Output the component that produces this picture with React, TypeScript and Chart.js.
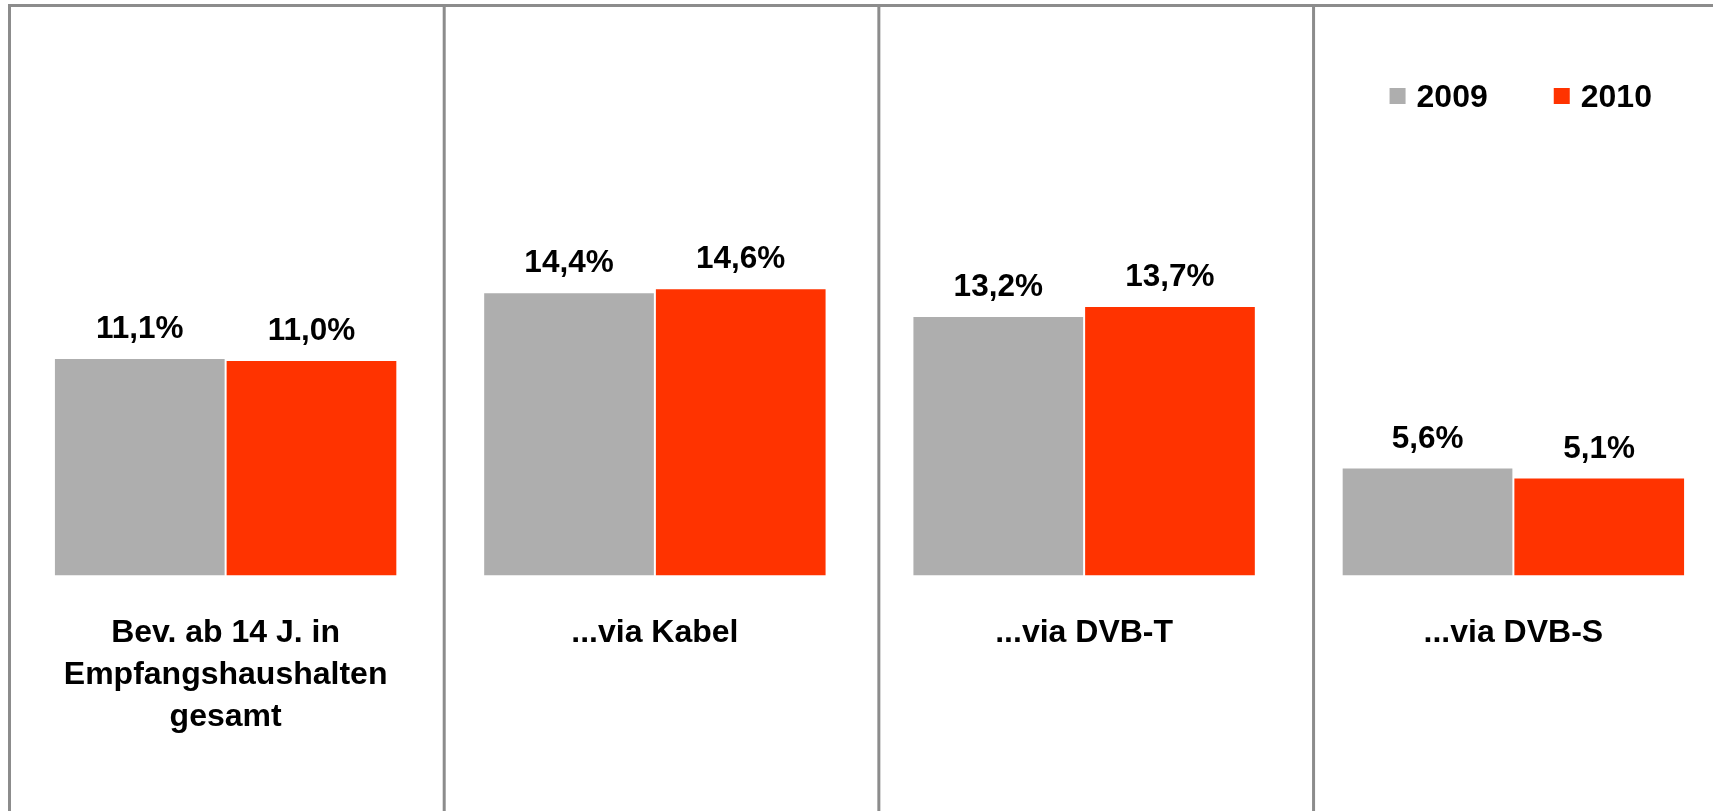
import React, { useEffect, useRef } from 'react';
import { Chart, registerables } from 'chart.js';

Chart.register(...registerables);

// ---- data ----
const CATEGORIES: (string | string[])[] = [
  ['Bev. ab 14 J. in', 'Empfangshaushalten', 'gesamt'],
  '...via Kabel',
  '...via DVB-T',
  '...via DVB-S',
];
const SERIES_NAMES = ['2009', '2010'];
const VALUES_2009 = [11.1, 14.4, 13.2, 5.6];
const VALUES_2010 = [11.0, 14.6, 13.7, 5.1];
// panel separators, in category-index units of the x scale
const PANEL_EDGES = [-0.5035, 0.5092, 1.5218, 2.5345];

// ---- style ----
const FONT = '"Liberation Sans", Arial, Helvetica, sans-serif';
const COLOR_2009 = '#aeaeae';
const COLOR_2010 = '#ff3300';
const FRAME_COLOR = '#8c8c8c';

const formatValue = (v: number) => v.toFixed(1).replace('.', ',') + '%';

const valueLabels = {
  id: 'valueLabels',
  afterDatasetsDraw(chart: any) {
    const ctx = chart.ctx;
    ctx.save();
    ctx.font = `bold 31.5px ${FONT}`;
    ctx.fillStyle = '#000';
    ctx.textAlign = 'center';
    ctx.textBaseline = 'alphabetic';
    chart.data.datasets.forEach((ds: any, i: number) => {
      const meta = chart.getDatasetMeta(i);
      meta.data.forEach((el: any, j: number) => {
        ctx.fillText(formatValue(ds.data[j]), el.x, el.y - 20);
      });
    });
    ctx.restore();
  },
};

const panelFrame = {
  id: 'panelFrame',
  afterDraw(chart: any) {
    const xs = chart.scales.x;
    const ctx = chart.ctx;
    const top = chart.chartArea.top - 9.5;
    ctx.save();
    ctx.strokeStyle = FRAME_COLOR;
    ctx.lineWidth = 3;
    ctx.beginPath();
    const left = xs.getPixelForValue(PANEL_EDGES[0]);
    ctx.moveTo(left - 1.5, top);
    ctx.lineTo(chart.width, top);
    PANEL_EDGES.forEach((v) => {
      const x = xs.getPixelForValue(v);
      ctx.moveTo(x, top);
      ctx.lineTo(x, chart.height);
    });
    ctx.stroke();
    ctx.restore();
  },
};

// legend drawn inside the last panel
const panelLegend = {
  id: 'panelLegend',
  afterDraw(chart: any) {
    const ctx = chart.ctx;
    const xs = chart.scales.x;
    let x = xs.getPixelForValue(PANEL_EDGES[3]) + 76;
    const baseline = chart.chartArea.top + 92;
    const box = 16;
    ctx.save();
    ctx.font = `bold 32px ${FONT}`;
    ctx.textAlign = 'left';
    ctx.textBaseline = 'alphabetic';
    chart.data.datasets.forEach((ds: any) => {
      ctx.fillStyle = ds.backgroundColor;
      ctx.fillRect(x, baseline - 19, box, box);
      x += box + 11;
      ctx.fillStyle = '#000';
      ctx.fillText(ds.label, x, baseline);
      x += ctx.measureText(ds.label).width + 66;
    });
    ctx.restore();
  },
};

export default function App() {
  const canvasRef = useRef<HTMLCanvasElement | null>(null);

  useEffect(() => {
    if (!canvasRef.current) return;
    const chart = new Chart(canvasRef.current, {
      type: 'bar',
      data: {
        labels: CATEGORIES,
        datasets: [
          {
            label: SERIES_NAMES[0],
            data: VALUES_2009,
            backgroundColor: COLOR_2009,
            borderColor: '#ffffff',
            borderWidth: 1,
          },
          {
            label: SERIES_NAMES[1],
            data: VALUES_2010,
            backgroundColor: COLOR_2010,
            borderColor: '#ffffff',
            borderWidth: 1,
          },
        ],
      },
      options: {
        animation: false,
        responsive: false,
        devicePixelRatio: 1,
        layout: { padding: { left: 11, right: 0, top: 15, bottom: 36 } },
        datasets: {
          bar: { categoryPercentage: 0.8, barPercentage: 1.0 },
        },
        scales: {
          x: {
            type: 'category',
            position: 'bottom',
            grid: { display: false, drawTicks: false },
            border: { display: false },
            ticks: {
              color: '#000',
              padding: 36.5,
              maxRotation: 0,
              autoSkip: false,
              font: { family: FONT, size: 32, weight: 'bold', lineHeight: 1.32 },
            },
          },
          y: {
            type: 'linear',
            display: false,
            min: 0.2,
            max: 28.3,
          },
        },
        plugins: {
          legend: { display: false },
          tooltip: { enabled: false },
          title: { display: false },
        },
      },
      plugins: [valueLabels, panelFrame, panelLegend],
    } as any);
    return () => chart.destroy();
  }, []);

  return (
    <div
      style={{
        position: 'fixed',
        left: 0,
        top: 0,
        width: '100vw',
        height: '100vh',
        overflow: 'hidden',
        background: '#fff',
      }}
    >
      <canvas
        ref={canvasRef}
        width={1728}
        height={811}
        style={{ display: 'block', width: '1728px', height: '811px' }}
      />
    </div>
  );
}
